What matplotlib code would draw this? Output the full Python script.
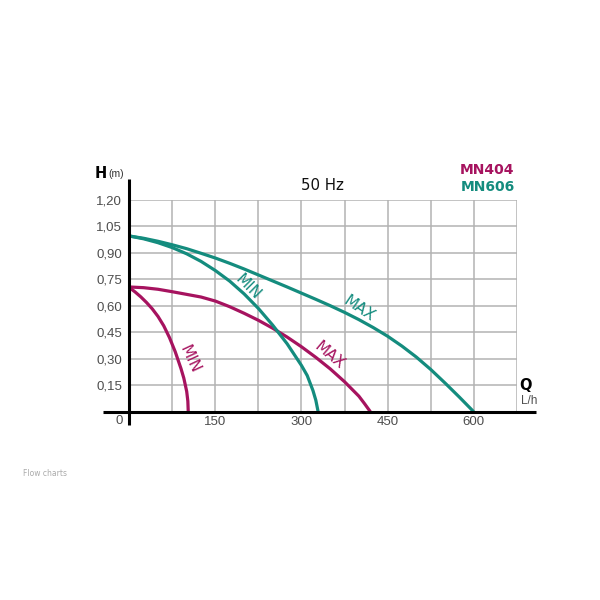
import matplotlib
matplotlib.use("Agg")
import matplotlib.pyplot as plt
from matplotlib import font_manager

# ---------------- data ----------------
mn404_min_q = [0, 10, 20, 30, 40, 50, 60, 70, 80, 90, 95, 100, 102, 102.7]
mn404_min_h = [0.704, 0.679, 0.651, 0.619, 0.583, 0.540, 0.487, 0.420, 0.340, 0.245, 0.190, 0.115, 0.060, 0.0]

mn404_max_q = [0, 25, 50, 75, 100, 125, 150, 175, 200, 225, 250, 275, 300, 325, 350, 375, 400, 410, 420]
mn404_max_h = [0.707, 0.703, 0.694, 0.680, 0.665, 0.650, 0.627, 0.595, 0.558, 0.518, 0.473, 0.423,
               0.368, 0.308, 0.243, 0.170, 0.088, 0.045, 0.0]

mn606_min_q = [0, 25, 50, 75, 100, 125, 150, 175, 200, 225, 250, 275, 300, 310, 320, 325, 329]
mn606_min_h = [0.996, 0.980, 0.958, 0.930, 0.895, 0.852, 0.800, 0.740, 0.668, 0.585, 0.490, 0.385,
               0.262, 0.205, 0.120, 0.065, 0.0]

mn606_max_q = [0, 25, 50, 75, 100, 125, 150, 175, 200, 225, 250, 275, 300, 325, 350, 375, 400,
               425, 450, 475, 500, 525, 550, 575, 600]
mn606_max_h = [0.996, 0.983, 0.966, 0.946, 0.924, 0.898, 0.871, 0.841, 0.809, 0.775, 0.741, 0.707,
               0.672, 0.637, 0.601, 0.563, 0.522, 0.477, 0.428, 0.372, 0.310, 0.240, 0.163, 0.083, 0.0]

x_ticks = [150, 300, 450, 600]
x_tick_labels = ["150", "300", "450", "600"]
x_grid = [75, 150, 225, 300, 375, 450, 525, 600, 675]
y_ticks = [0.15, 0.30, 0.45, 0.60, 0.75, 0.90, 1.05, 1.20]
y_tick_labels = ["0,15", "0,30", "0,45", "0,60", "0,75", "0,90", "1,05", "1,20"]

series_names = ["MN404", "MN606"]
curve_labels = ["MIN", "MAX"]

# ---------------- style ----------------
CRIMSON = "#A6135F"
TEAL = "#148C7E"
GRID = "#b3b3b3"
TICKC = "#4d4d4d"

avail = {f.name for f in font_manager.fontManager.ttflist}
tick_font = "Liberation Sans Narrow" if "Liberation Sans Narrow" in avail else "Liberation Sans"

fig = plt.figure(figsize=(6, 6), dpi=100)
ax = fig.add_axes([129.3 / 600, (600 - 411.7) / 600, 387.4 / 600, 211.7 / 600])
ax.set_xlim(0, 675)
ax.set_ylim(0, 1.2)
for s in ax.spines.values():
    s.set_visible(False)

# grid
ax.set_xticks(x_grid, minor=True)
ax.set_xticks(x_ticks)
ax.set_xticklabels(x_tick_labels)
ax.set_yticks(y_ticks)
ax.set_yticklabels(y_tick_labels)
ax.grid(True, which="both", color=GRID, linewidth=1.1, zorder=0)
ax.tick_params(which="both", length=0)
ax.tick_params(axis="y", pad=5.2, labelsize=9.5, labelcolor=TICKC)
ax.tick_params(axis="x", pad=3.0, labelsize=9.5, labelcolor=TICKC)
for lab in ax.get_xticklabels() + ax.get_yticklabels():
    lab.set_fontfamily(tick_font)

# axis lines
ax.plot([0, 0], [-0.075, 1.317], color="black", lw=2.2, clip_on=False, zorder=5, solid_capstyle="butt")
ax.plot([-46, 709], [0, 0], color="black", lw=2.2, clip_on=False, zorder=5, solid_capstyle="butt")

# curves
lw = 2.3
kw = dict(lw=lw, solid_capstyle="butt", solid_joinstyle="round")
ax.plot(mn404_min_q, mn404_min_h, color=CRIMSON, zorder=3, **kw)
ax.plot(mn404_max_q, mn404_max_h, color=CRIMSON, zorder=3, **kw)
ax.plot(mn606_min_q, mn606_min_h, color=TEAL, zorder=3, **kw)
ax.plot(mn606_max_q, mn606_max_h, color=TEAL, zorder=4, **kw)

# curve labels
lab_kw = dict(ha="center", va="center", rotation_mode="anchor", fontsize=11, family="DejaVu Sans")
ax.text(207, 0.707, curve_labels[0], color=TEAL, rotation=-45, **lab_kw)
ax.text(401, 0.585, curve_labels[1], color=TEAL, rotation=-34, **lab_kw)
ax.text(348, 0.321, curve_labels[1], color=CRIMSON, rotation=-40, **lab_kw)
ax.text(105.6, 0.298, curve_labels[0], color=CRIMSON, rotation=-65, **lab_kw)

# zero label
ax.annotate("0", xy=(0, 0), xytext=(-7.5, -7), textcoords="offset points",
            ha="center", va="center", fontsize=9.5, color=TICKC, family=tick_font)

# axis titles
fig.text(100.5 / 600, 1 - 173.5 / 600, "H", fontsize=10.5, fontweight="bold",
         ha="center", va="center", family="DejaVu Sans")
fig.text(116 / 600, 1 - 174.5 / 600, "(m)", fontsize=7.5, color="#333333",
         ha="center", va="center", family=tick_font)
fig.text(525.5 / 600, 1 - 385 / 600, "Q", fontsize=10.5, fontweight="bold",
         ha="center", va="center", family="DejaVu Sans")
fig.text(529 / 600, 1 - 401.5 / 600, "L/h", fontsize=8.5, color=TICKC,
         ha="center", va="center", family=tick_font)

# title and legend-like text
fig.text(322.5 / 600, 1 - 185 / 600, "50 Hz", fontsize=10.8, ha="center", va="center",
         family="DejaVu Sans", color="#111111")
fig.text(514.5 / 600, 1 - 170 / 600, series_names[0], fontsize=10, fontweight="bold",
         ha="right", va="center", color=CRIMSON, family="DejaVu Sans")
fig.text(514.5 / 600, 1 - 186.7 / 600, series_names[1], fontsize=10, fontweight="bold",
         ha="right", va="center", color=TEAL, family="DejaVu Sans")

# footer
fig.text(23 / 600, 1 - 474 / 600, "Flow charts", fontsize=5.5, color="#aaaaaa",
         ha="left", va="center", family="DejaVu Sans")

fig.savefig("out.png", dpi=100, facecolor="white")
